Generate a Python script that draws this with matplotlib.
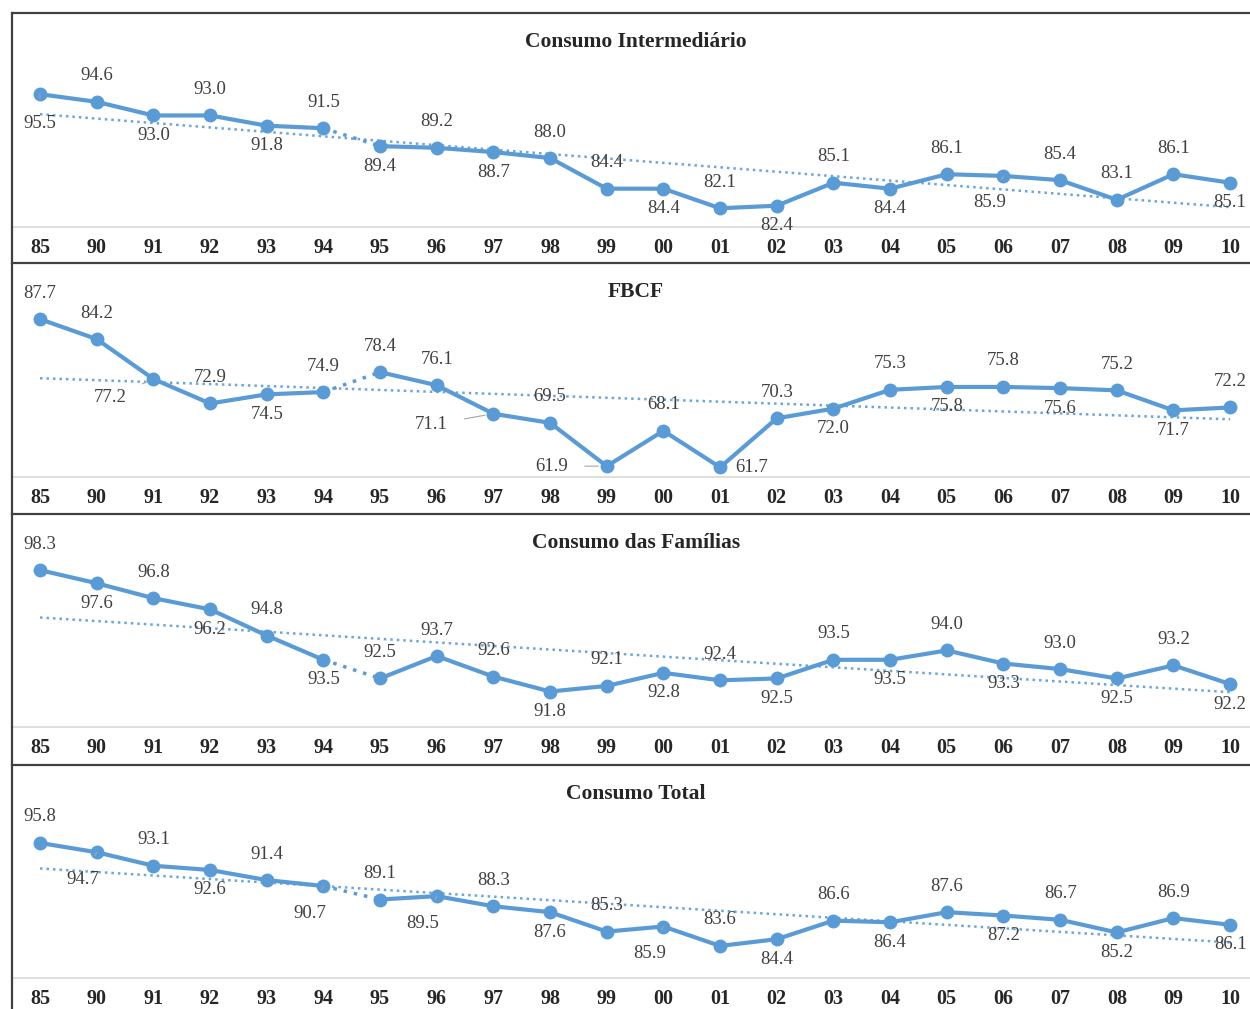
import matplotlib.pyplot as plt
from matplotlib.lines import Line2D
import numpy as np

anos = ['85', '90', '91', '92', '93', '94', '95', '96', '97', '98', '99',
        '00', '01', '02', '03', '04', '05', '06', '07', '08', '09', '10']

consumo_intermediario = [95.5, 94.6, 93.0, 93.0, 91.8, 91.5, 89.4, 89.2, 88.7, 88.0, 84.4,
                         84.4, 82.1, 82.4, 85.1, 84.4, 86.1, 85.9, 85.4, 83.1, 86.1, 85.1]
fbcf = [87.7, 84.2, 77.2, 72.9, 74.5, 74.9, 78.4, 76.1, 71.1, 69.5, 61.9,
        68.1, 61.7, 70.3, 72.0, 75.3, 75.8, 75.8, 75.6, 75.2, 71.7, 72.2]
consumo_familias = [98.3, 97.6, 96.8, 96.2, 94.8, 93.5, 92.5, 93.7, 92.6, 91.8, 92.1,
                    92.8, 92.4, 92.5, 93.5, 93.5, 94.0, 93.3, 93.0, 92.5, 93.2, 92.2]
consumo_total = [95.8, 94.7, 93.1, 92.6, 91.4, 90.7, 89.1, 89.5, 88.3, 87.6, 85.3,
                 85.9, 83.6, 84.4, 86.6, 86.4, 87.6, 87.2, 86.7, 85.2, 86.9, 86.1]

titulos = ['Consumo Intermediário', 'FBCF', 'Consumo das Famílias', 'Consumo Total']

# posição do rótulo de cada ponto: a=acima, b=abaixo, bl=abaixo/esquerda, l=esquerda, r=direita
pos_ci = ['b0', 'a', 'b', 'a', 'b', 'a', 'b', 'a', 'b', 'a', 'a',
          'b', 'a', 'b', 'a', 'b', 'a', 'bl', 'a', 'a', 'a', 'b']
pos_fbcf = ['a', 'a', 'l1', 'a', 'b', 'a', 'a', 'a', 'l2', 'a', 'l',
            'a', 'r', 'a', 'b', 'a', 'b', 'a', 'b', 'a', 'b', 'a']
pos_fam = ['a', 'b', 'a', 'b', 'a', 'b', 'a', 'a', 'a', 'b', 'a',
           'b', 'a', 'b', 'a', 'b', 'a', 'b', 'a', 'b', 'a', 'b']
pos_tot = ['a', 'bl', 'a', 'b', 'a', 'bl', 'a', 'bl', 'a', 'b', 'a',
           'bl', 'a', 'b', 'a', 'b', 'a', 'b', 'a', 'b', 'a', 'b']

offsets = {'a': (0, 26), 'b': (0, -20), 'b0': (0, -29), 'bl': (-14, -27),
           'l': (-55, 0), 'l1': (-43, -19), 'l2': (-62, -11), 'r': (32, 0)}
leaders = {'b0', 'bl', 'l', 'l1', 'l2'}

W, H = 1250, 1009
azul = '#5b9bd5'
serif = 'Liberation Serif'

# (série, posições, topo px, base px, ylim)
paineis = [
    (consumo_intermediario, pos_ci, 15, 227, (79.9, 104.8)),
    (fbcf, pos_fbcf, 265, 477, (60.0, 97.2)),
    (consumo_familias, pos_fam, 516, 727, (89.9, 101.2)),
    (consumo_total, pos_tot, 767, 978, (79.8, 104.8)),
]
bordas = [13, 263, 514, 765]

fig = plt.figure(figsize=(W / 100, H / 100), dpi=100)
x = np.arange(len(anos))

for i, (serie, posicoes, topo, base, ylim) in enumerate(paineis):
    ax = fig.add_axes([12 / W, 1 - base / H, 1 - 12 / W, (base - topo) / H])
    y = np.array(serie)

    # linha de tendência linear
    a, b = np.polyfit(x, y, 1)
    ax.plot(x, a * x + b, color=azul, lw=1.8, linestyle=(0, (1, 1.6)), alpha=0.9, zorder=1)

    # série com quebra entre 94 e 95
    ax.plot(x[:6], y[:6], color=azul, lw=3, marker='o', ms=9, zorder=3)
    ax.plot(x[6:], y[6:], color=azul, lw=3, marker='o', ms=9, zorder=3)
    ax.plot(x[5:7], y[5:7], color=azul, lw=2.5, linestyle=(0, (1, 2)), zorder=2)

    for xi, yi, p in zip(x, y, posicoes):
        dx, dy = offsets[p]
        props = None
        if p in leaders:
            props = dict(arrowstyle='-', color='#a6a6a6', lw=0.8, shrinkA=10, shrinkB=6)
        ax.annotate(f'{yi:.1f}', (xi, yi), xytext=(dx, dy), textcoords='offset pixels',
                    ha='center', va='center', fontsize=13.5, family=serif,
                    color='#404040', arrowprops=props, zorder=4)

    ax.set_xlim(-0.494, 21.35)
    ax.set_ylim(*ylim)
    ax.set_yticks([])
    ax.set_xticks(x)
    ax.set_xticklabels(anos, family=serif, fontweight='bold', fontsize=14.5, color='#262626')
    ax.tick_params(axis='x', length=0, pad=8)
    for s in ['top', 'left', 'right']:
        ax.spines[s].set_visible(False)
    ax.spines['bottom'].set_color('#d9d9d9')
    ax.spines['bottom'].set_linewidth(1.2)
    ax.patch.set_alpha(0)

    fig.text(636 / W, 1 - (bordas[i] + 29) / H, titulos[i], ha='center', va='center',
             family=serif, fontweight='bold', fontsize=15.5, color='#262626')

# molduras dos painéis
for yb in bordas:
    fig.add_artist(Line2D([12 / W, 1], [1 - yb / H] * 2, color='#404040', lw=1.6))
fig.add_artist(Line2D([12 / W] * 2, [1 - 13 / H, 0], color='#404040', lw=1.6))

fig.savefig('out.png', dpi=100)
